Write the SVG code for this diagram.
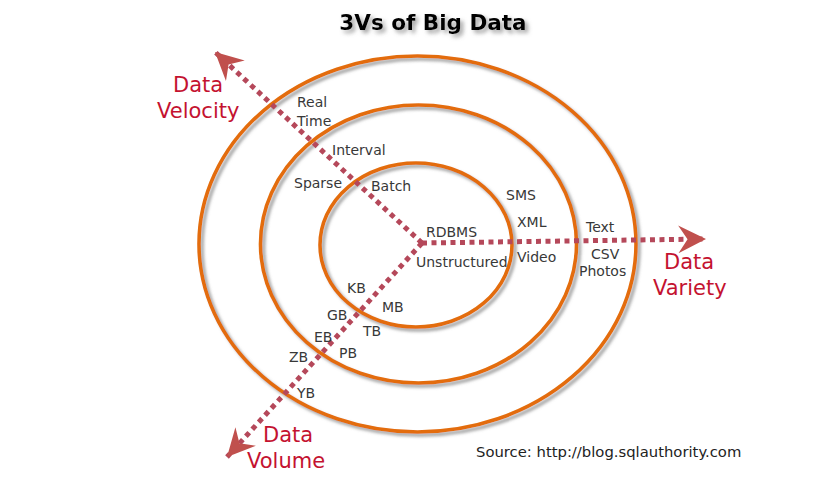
<svg xmlns="http://www.w3.org/2000/svg" width="824" height="494" viewBox="0 0 824 494">
<defs>
  <style>
    .ring { fill: none; stroke: #e36c09; stroke-width: 3.6; filter: url(#sh); }
    .axis { fill: none; stroke: #b5485a; stroke-width: 5; stroke-dasharray: 5 4.5; marker-end: url(#ah); }
    .lbl { font-family: "DejaVu Sans", "Liberation Sans", sans-serif; font-size: 14px; fill: #383838; }
    .red { font-family: "DejaVu Sans", "Liberation Sans", sans-serif; font-size: 21px; fill: #c41230; }
    .title { font-family: "DejaVu Sans", "Liberation Sans", sans-serif; font-size: 21.5px; font-weight: bold; fill: #000000; filter: url(#tsh); }
    .src { font-family: "DejaVu Sans", "Liberation Sans", sans-serif; font-size: 14.8px; fill: #222222; }
  </style>
  <filter id="sh" x="-10%" y="-10%" width="120%" height="120%">
    <feGaussianBlur in="SourceAlpha" stdDeviation="1.8" result="b"/>
    <feOffset in="b" dx="2.5" dy="3" result="o"/>
    <feFlood flood-color="#8a8a8a" flood-opacity="0.75"/>
    <feComposite in2="o" operator="in" result="s"/>
    <feMerge><feMergeNode in="s"/><feMergeNode in="SourceGraphic"/></feMerge>
  </filter>
  <filter id="tsh" x="-10%" y="-30%" width="120%" height="160%">
    <feGaussianBlur in="SourceAlpha" stdDeviation="2" result="b"/>
    <feOffset in="b" dx="3" dy="3" result="o"/>
    <feFlood flood-color="#777777" flood-opacity="0.7"/>
    <feComposite in2="o" operator="in" result="s"/>
    <feMerge><feMergeNode in="s"/><feMergeNode in="SourceGraphic"/></feMerge>
  </filter>
  <marker id="ah" markerUnits="userSpaceOnUse" markerWidth="30" markerHeight="30" viewBox="0 -13 26 26" refX="24" refY="0" orient="auto">
    <path d="M0,-12 L24,0 L0,12 L8,0 Z" fill="#c0504d"/>
  </marker>
</defs>

<rect width="824" height="494" fill="#ffffff"/>

<text class="title" x="433" y="30" text-anchor="middle">3Vs of Big Data</text>

<g id="rings">
  <ellipse id="ring-outer" class="ring" cx="417.5" cy="244" rx="218.5" ry="188"/>
  <ellipse id="ring-middle" class="ring" cx="418.5" cy="244" rx="158" ry="139"/>
  <ellipse id="ring-inner" class="ring" cx="416" cy="245" rx="96" ry="82"/>
</g>

<g id="connectors">
  <line id="axis-velocity" class="axis" x1="422" y1="243" x2="215" y2="52"/>
  <line id="axis-variety" class="axis" x1="422" y1="243" x2="706" y2="239"/>
  <line id="axis-volume" class="axis" x1="422" y1="243" x2="227" y2="457"/>
</g>

<g id="velocity">
  <text class="red" x="173" y="92">Data</text>
  <text class="red" x="157" y="118">Velocity</text>
  <text class="lbl" x="297" y="107">Real</text>
  <text class="lbl" x="297" y="126">Time</text>
  <text class="lbl" x="332" y="155">Interval</text>
  <text class="lbl" x="294" y="188">Sparse</text>
  <text class="lbl" x="371" y="191">Batch</text>
</g>

<g id="variety">
  <text class="red" x="664" y="269">Data</text>
  <text class="red" x="653" y="295">Variety</text>
  <text class="lbl" x="426" y="237">RDBMS</text>
  <text class="lbl" x="416" y="267">Unstructured</text>
  <text class="lbl" x="506" y="200">SMS</text>
  <text class="lbl" x="517" y="227">XML</text>
  <text class="lbl" x="517" y="262">Video</text>
  <text class="lbl" x="586" y="232">Text</text>
  <text class="lbl" x="591" y="259">CSV</text>
  <text class="lbl" x="579" y="276">Photos</text>
</g>

<g id="volume">
  <text class="red" x="263" y="442">Data</text>
  <text class="red" x="247" y="468">Volume</text>
  <text class="lbl" x="347" y="293">KB</text>
  <text class="lbl" x="382" y="312">MB</text>
  <text class="lbl" x="327" y="320">GB</text>
  <text class="lbl" x="363" y="336">TB</text>
  <text class="lbl" x="314" y="342">EB</text>
  <text class="lbl" x="339" y="358">PB</text>
  <text class="lbl" x="289" y="362">ZB</text>
  <text class="lbl" x="297" y="398">YB</text>
</g>

<text class="src" x="476" y="457">Source: http://blog.sqlauthority.com</text>
</svg>
